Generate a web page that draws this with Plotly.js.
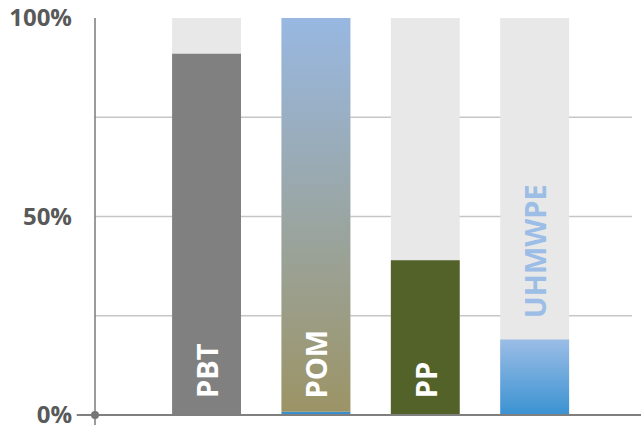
<!DOCTYPE html>
<html>
<head>
<meta charset="utf-8">
<script src="https://cdn.plot.ly/plotly-3.0.1.min.js"></script>
<style>
  html, body { margin: 0; padding: 0; background: #ffffff; }
  #chart { width: 641px; height: 427px; }
</style>
</head>
<body>
<div id="chart"></div>
<script>
// ---- data ----
const categories = ['PBT', 'POM', 'PP', 'UHMWPE'];
const values = [91, 100, 39, 19];          // % share of each bar
const baseSliver = [0, 0.8, 0, 0];         // thin blue base strip (POM)
const totals = [100, 100, 100, 100];       // light grey background
const tickVals = [0, 50, 100];
const tickText = ['0%', '50%', '100%'];
const gridVals = [25, 50, 75];

// ---- style ----
const BAR_W = 0.63;
const xs = categories.map((c, i) => i);
const fillStyle = [
  { type: 'solid', color: '#808080' },
  { type: 'grad', bottom: '#9c9466', top: '#98b8e2' },
  { type: 'solid', color: '#536229' },
  { type: 'grad', bottom: '#3a92d2', top: '#9bbde6' }
];

const traces = [];
// background bars
traces.push({
  type: 'bar', x: xs, y: totals, width: BAR_W,
  marker: { color: '#e8e8e8', line: { width: 0 } },
  hoverinfo: 'skip', showlegend: false
});
// solid bars
const solidIdx = xs.filter(i => fillStyle[i].type === 'solid');
traces.push({
  type: 'bar', x: solidIdx, y: solidIdx.map(i => values[i]), width: BAR_W,
  marker: { color: solidIdx.map(i => fillStyle[i].color), line: { width: 0 } },
  hoverinfo: 'skip', showlegend: false
});
// gradient bars as filled rectangles
xs.forEach(i => {
  if (fillStyle[i].type !== 'grad') return;
  const b = baseSliver[i];
  const t = values[i];
  const x0 = i - BAR_W / 2, x1 = i + BAR_W / 2;
  traces.push({
    type: 'scatter', mode: 'lines',
    x: [x0, x1, x1, x0, x0], y: [b, b, t, t, b],
    fill: 'toself',
    line: { width: 0, color: 'rgba(0,0,0,0)' },
    fillgradient: {
      type: 'vertical', start: b, stop: t,
      colorscale: [[0, fillStyle[i].bottom], [1, fillStyle[i].top]]
    },
    hoverinfo: 'skip', showlegend: false
  });
});
// base sliver
const sliverIdx = xs.filter(i => baseSliver[i] > 0);
traces.push({
  type: 'bar', x: sliverIdx, y: sliverIdx.map(i => baseSliver[i]), width: BAR_W,
  marker: { color: '#3a8fd0', line: { width: 0 } },
  hoverinfo: 'skip', showlegend: false
});

// labels
const annotations = categories.map((c, i) => {
  const outside = values[i] < 25;
  return {
    x: i, y: outside ? values[i] : 0, xref: 'x', yref: 'y',
    text: c, showarrow: false, textangle: -90,
    xanchor: 'center', yanchor: 'bottom',
    yshift: outside ? 19 : 15,
    font: { family: 'Open Sans', size: 29, color: outside ? '#9bbde6' : '#ffffff', weight: 'bold' }
  };
});

const shapes = [];
gridVals.forEach(v => shapes.push({
  type: 'line', xref: 'paper', yref: 'y', x0: 0, x1: 1, y0: v, y1: v,
  line: { color: '#c6c6c6', width: 1.3 }, layer: 'below'
}));
// y axis line
shapes.push({
  type: 'line', xref: 'paper', yref: 'paper', x0: 0, x1: 0, y0: -0.025, y1: 1,
  line: { color: '#7a7a7a', width: 1.5 }, layer: 'above'
});
// x axis line
shapes.push({
  type: 'line', xref: 'paper', yref: 'paper', x0: -0.034, x1: 1.02, y0: 0, y1: 0,
  line: { color: '#7f7f7f', width: 2 }, layer: 'above'
});
// origin dot
shapes.push({
  type: 'circle', xref: 'paper', yref: 'paper', xsizemode: 'pixel', ysizemode: 'pixel',
  xanchor: 0, yanchor: 0, x0: -4, x1: 4, y0: -4, y1: 4,
  fillcolor: '#777777', line: { width: 0 }, layer: 'above'
});

const layout = {
  width: 641, height: 427,
  margin: { l: 95, r: 9, t: 18, b: 12 },
  paper_bgcolor: '#ffffff', plot_bgcolor: '#ffffff',
  barmode: 'overlay',
  showlegend: false,
  xaxis: {
    range: [-1.02, 3.89], showgrid: false, zeroline: false,
    showticklabels: false, ticks: '', showline: false, fixedrange: true
  },
  yaxis: {
    range: [0, 100], tickvals: tickVals, ticktext: tickText,
    showgrid: false, zeroline: false, showline: false, ticks: '',
    ticklabelstandoff: 22, ticklabeloverflow: 'allow',
    tickfont: { family: 'Open Sans', size: 24, color: '#595959', weight: 'bold' },
    fixedrange: true
  },
  shapes: shapes,
  annotations: annotations
};

Plotly.newPlot('chart', traces, layout, { displayModeBar: false, staticPlot: true });
</script>
</body>
</html>
